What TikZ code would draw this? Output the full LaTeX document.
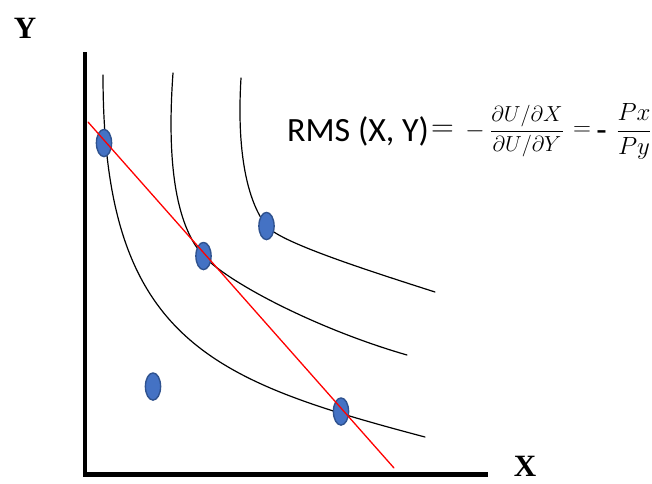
\documentclass[tikz,border=0pt]{standalone}
\usepackage{fontspec}
\setmainfont{Liberation Serif}
\newfontfamily\calibri{Carlito}
\definecolor{dotblue}{HTML}{4472C4}
\definecolor{dotedge}{HTML}{2F528F}
\begin{document}
\begin{tikzpicture}[x=1pt, y=-1pt, line join=round, line cap=round,
	curve/.style={line width=1.2pt},
	budget/.style={red, line width=1.3pt},
	axis/.style={line width=4.7pt, line cap=butt, line join=miter},
	dot/.style={fill=dotblue, draw=dotedge, line width=1.4pt},
	axlabel/.style={font=\fontsize{31}{33}\selectfont\bfseries, inner sep=0pt},
	formula/.style={font=\calibri\fontsize{34}{40}\selectfont, inner sep=0pt},
	mathlbl/.style={font=\fontsize{20}{24}\selectfont, inner sep=0pt},
	bigmath/.style={font=\fontsize{24}{28}\selectfont, inner sep=0pt}]
	\useasboundingbox (0,0) rectangle (652,483);
	
	\coordinate (top) at (85,52);
	\coordinate (O) at (85,474.6);
	\coordinate (right) at (488,474.6);
	\coordinate (A) at (104,143);
	\coordinate (B) at (203.5,256);
	\coordinate (C) at (266.5,226);
	\coordinate (D) at (153,386.5);
	\coordinate (E) at (341,411.5);
	\coordinate (b1) at (88,122);
	\coordinate (b2) at (394,468);
	
	% axes
	\draw[axis] (top) -- (O) -- (right);
	\node[axlabel] (ylab) at (25,28) {Y};
	\node[axlabel, anchor=base] (xlab) at (525,476) {X};
	
	% indifference curves
	\draw[curve] (103,75) .. controls (103,340) and (210,380) .. (425,437);
	\draw[curve] (173,73) .. controls (166,170) and (178,228) .. (B) .. controls (230,284) and (320,330) .. (407,355);
	\draw[curve] (241,78) .. controls (236,160) and (250,205) .. (C) .. controls (280,242) and (360,268) .. (435,292);
	
	\foreach \p in {A, B, C, D, E} {
		\filldraw[dot] (\p) ellipse (7.6pt and 13.6pt);
	}
	
	% budget line
	\draw[budget] (b1) -- (b2);
	
	\node[formula, anchor=base west] (rms) at (287,141) {RMS (X, Y)};
	\node[bigmath, scale=1.27] (eq1) at (442.5,131) {$=$};
	\node[bigmath] (minus) at (475,131) {$-$};
	\node[mathlbl, scale=1.05] (mrs) at (527,131) {$\displaystyle\frac{\partial U/\partial X}{\partial U/\partial Y}$};
	\node[bigmath] (eq2) at (582,131) {$=$};
	\node[formula, anchor=base] (dash) at (601.5,141) {-};
	\node[bigmath] (price) at (634,131) {$\displaystyle\frac{Px}{Py}$};
\end{tikzpicture}
\end{document}
